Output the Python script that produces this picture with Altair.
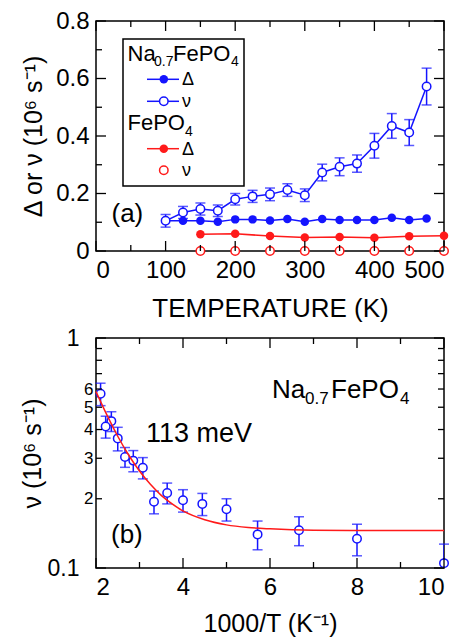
import altair as alt
import pandas as pd

FONT = "Liberation Sans"
BLUE = "#1414ff"
RED = "#ff1a1a"
W, H = 348, 230

# ---------------- panel (a) data ----------------
na_T = [100, 125, 150, 175, 200, 225, 250, 275, 300, 325, 350, 375, 400, 425, 450, 475]
na_delta = [0.105, 0.105, 0.105, 0.102, 0.110, 0.110, 0.106, 0.111, 0.102, 0.111,
            0.108, 0.108, 0.108, 0.116, 0.108, 0.113]
na_nu = [0.105, 0.134, 0.146, 0.140, 0.180, 0.190, 0.197, 0.212, 0.194, 0.273,
         0.293, 0.304, 0.366, 0.435, 0.412, 0.572]
na_nu_err = [0.022, 0.021, 0.021, 0.020, 0.020, 0.021, 0.022, 0.022, 0.022, 0.029,
             0.031, 0.030, 0.043, 0.043, 0.045, 0.064]

fe_T = [150, 200, 250, 300, 350, 400, 450, 500]
fe_delta = [0.058, 0.060, 0.052, 0.047, 0.049, 0.046, 0.051, 0.053]
fe_nu = [0, 0, 0, 0, 0, 0, 0, 0]

# ---------------- panel (b) fit curve ----------------
fit_x = [2.0, 2.25, 2.5, 2.75, 3.0, 3.25, 3.5, 3.75, 4.0, 4.5, 5.0, 5.5, 6.0, 7.0, 8.0, 10.0]
fit_nu = [0.585, 0.463, 0.374, 0.310, 0.264, 0.231, 0.207, 0.190, 0.177, 0.162,
          0.154, 0.150, 0.148, 0.146, 0.1457, 0.1455]

# ---------------- tick lists ----------------
a_x_major = [0, 100, 200, 300, 400, 500]
a_x_minor = [50, 150, 250, 350, 450]
a_y_major = [0, 0.2, 0.4, 0.6, 0.8]
a_y_minor = [0.1, 0.3, 0.5, 0.7]
b_x_major = [2, 4, 6, 8, 10]
b_x_minor = [3, 5, 7, 9]
b_y_major = [0.1, 1.0]
b_y_minor = [0.2, 0.3, 0.4, 0.5, 0.6, 0.7, 0.8, 0.9]
b_y_labels = [0.1, 0.2, 0.3, 0.4, 0.5, 0.6, 1.0]

na = pd.DataFrame({"T": na_T, "delta": na_delta, "nu": na_nu, "err": na_nu_err})
fe = pd.DataFrame({"T": fe_T, "delta": fe_delta, "nu": fe_nu})
fit = pd.DataFrame({"x": fit_x, "nu": fit_nu})
one = pd.DataFrame({"a": [0]})

LW = 1.5
PSIZE = 72


def tick_layers(xvals_major, xvals_minor, yvals_major, yvals_minor, X, Y):
    layers = []
    for vals, ln in ((xvals_major, 10), (xvals_minor, 6)):
        d = alt.Chart(pd.DataFrame({"v": vals})).mark_rule(color="black", strokeWidth=1.3)
        layers.append(d.encode(x=X("v"), y=alt.value(H), y2=alt.value(H - ln)))
        layers.append(d.encode(x=X("v"), y=alt.value(0), y2=alt.value(ln)))
    for vals, ln in ((yvals_major, 10), (yvals_minor, 6)):
        d = alt.Chart(pd.DataFrame({"v": vals})).mark_rule(color="black", strokeWidth=1.3)
        layers.append(d.encode(y=Y("v"), x=alt.value(0), x2=alt.value(ln)))
        layers.append(d.encode(y=Y("v"), x=alt.value(W), x2=alt.value(W - ln)))
    return layers


def txt(s, x, y, size, color="black", align="left", baseline="alphabetic"):
    return alt.Chart(one).mark_text(
        text=s, font=FONT, fontSize=size, color=color, align=align, baseline=baseline
    ).encode(x=alt.value(x), y=alt.value(y))


# ================= panel (a) =================
xs_a = alt.Scale(domain=[0, 500], nice=False, zero=False)
ys_a = alt.Scale(domain=[0, 0.8], nice=False, zero=False)

ax_a_x = alt.Axis(values=a_x_major, ticks=False, domain=False, grid=False,
                  labelFontSize=24, labelPadding=7, title="TEMPERATURE (K)",
                  titleFontSize=26, titlePadding=13)
ax_a_y = alt.Axis(values=a_y_major, ticks=False, domain=False, grid=False,
                  labelFontSize=24, labelPadding=7,
                  labelExpr="datum.value == 0 ? '0' : format(datum.value, '.1f')",
                  title="Δ or ν (10⁶ s⁻¹)", titleFontSize=25, titlePadding=9)


def XA(f):
    return alt.X(f"{f}:Q", scale=xs_a, axis=ax_a_x)


def YA(f):
    return alt.Y(f"{f}:Q", scale=ys_a, axis=ax_a_y)


na_base = alt.Chart(na)
fe_base = alt.Chart(fe)

a_layers = [
    na_base.mark_line(color=BLUE, strokeWidth=LW).encode(x=XA("T"), y=YA("delta")),
    na_base.mark_line(color=BLUE, strokeWidth=LW).encode(x=XA("T"), y=YA("nu")),
    na_base.transform_calculate(lo="datum.nu - datum.err", hi="datum.nu + datum.err")
    .mark_rule(color=BLUE, strokeWidth=LW).encode(x=XA("T"), y=YA("lo"), y2="hi:Q"),
    na_base.transform_calculate(lo="datum.nu - datum.err")
    .mark_tick(color=BLUE, orient="horizontal", size=10, thickness=LW)
    .encode(x=XA("T"), y=YA("lo")),
    na_base.transform_calculate(hi="datum.nu + datum.err")
    .mark_tick(color=BLUE, orient="horizontal", size=10, thickness=LW)
    .encode(x=XA("T"), y=YA("hi")),
    fe_base.mark_line(color=RED, strokeWidth=LW).encode(x=XA("T"), y=YA("delta")),
    na_base.mark_point(shape="circle", filled=True, color=BLUE, size=PSIZE, opacity=1)
    .encode(x=XA("T"), y=YA("delta")),
    na_base.mark_point(shape="circle", filled=True, fill="white", stroke=BLUE,
                       strokeWidth=LW, size=PSIZE, opacity=1)
    .encode(x=XA("T"), y=YA("nu")),
    fe_base.mark_point(shape="circle", filled=True, color=RED, size=PSIZE, opacity=1)
    .encode(x=XA("T"), y=YA("delta")),
    fe_base.mark_point(shape="circle", filled=True, fill="white", stroke=RED,
                       strokeWidth=LW, size=PSIZE, opacity=1)
    .encode(x=XA("T"), y=YA("nu")),
]
a_layers += tick_layers(a_x_major, a_x_minor, a_y_major, a_y_minor, XA, YA)

# legend box (manual)
a_layers.append(
    alt.Chart(one).mark_rect(fill="white", stroke="black", strokeWidth=1.5).encode(
        x=alt.value(27), x2=alt.value(148), y=alt.value(18), y2=alt.value(165)))
a_layers += [
    txt("Na", 31.5, 39.5, 22), txt("0.7", 58, 45, 14), txt("FePO", 77, 39.5, 22), txt("4", 135, 45, 14),
    txt("FePO", 31.5, 109, 22), txt("4", 89, 114.5, 14),
]
for (yy, col, filled, line) in ((58.3, BLUE, True, True), (80.3, BLUE, False, True),
                                (127.7, RED, True, True), (149.3, RED, False, False)):
    if line:
        a_layers.append(alt.Chart(one).mark_rule(color=col, strokeWidth=LW).encode(
            x=alt.value(51), x2=alt.value(83), y=alt.value(yy)))
    if filled:
        a_layers.append(alt.Chart(one).mark_point(shape="circle", filled=True, color=col,
                                                  size=PSIZE, opacity=1).encode(
            x=alt.value(67.8), y=alt.value(yy)))
    else:
        a_layers.append(alt.Chart(one).mark_point(shape="circle", filled=True, fill="white",
                                                  stroke=col, strokeWidth=LW, size=PSIZE,
                                                  opacity=1).encode(
            x=alt.value(67.8), y=alt.value(yy)))
    a_layers.append(txt("Δ" if filled else "ν", 86, yy + 1, 18, baseline="middle"))

a_layers.append(txt("(a)", 15.5, 201, 26))

panel_a = alt.layer(*a_layers).properties(width=W, height=H)

# ================= panel (b) =================
xs_b = alt.Scale(domain=[2, 10], nice=False, zero=False)
ys_b = alt.Scale(type="log", domain=[0.1, 1], nice=False)

major_test = "datum.value > 0.95 || datum.value < 0.15"
ax_b_x = alt.Axis(values=b_x_major, ticks=False, domain=False, grid=False,
                  labelFontSize=24, labelPadding=7, title="1000/T (K⁻¹)",
                  titleFontSize=25, titlePadding=12)
ax_b_y = alt.Axis(values=b_y_labels, ticks=False, domain=False, grid=False,
                  labelFontSize={"condition": {"test": major_test, "value": 23}, "value": 17},
                  labelPadding={"condition": {"test": major_test, "value": 17}, "value": 3},
                  labelExpr="datum.value > 0.95 ? '1' : (datum.value < 0.15 ? '0.1' : format(datum.value * 10, '.0f'))",
                  title="ν (10⁶ s⁻¹)", titleFontSize=25, titlePadding=2)


def XB(f):
    return alt.X(f"{f}:Q", scale=xs_b, axis=ax_b_x)


def YB(f):
    return alt.Y(f"{f}:Q", scale=ys_b, axis=ax_b_y)


b_base = alt.Chart(na).transform_calculate(inv="1000 / datum.T")

b_layers = [
    b_base.transform_calculate(lo="datum.nu - datum.err", hi="datum.nu + datum.err")
    .mark_rule(color=BLUE, strokeWidth=LW, clip=True)
    .encode(x=XB("inv"), y=YB("lo"), y2="hi:Q"),
    b_base.transform_calculate(lo="datum.nu - datum.err")
    .mark_tick(color=BLUE, orient="horizontal", size=10, thickness=LW, clip=True)
    .encode(x=XB("inv"), y=YB("lo")),
    b_base.transform_calculate(hi="datum.nu + datum.err")
    .mark_tick(color=BLUE, orient="horizontal", size=10, thickness=LW)
    .encode(x=XB("inv"), y=YB("hi")),
    b_base.mark_point(shape="circle", filled=True, fill="white", stroke=BLUE,
                      strokeWidth=LW, size=PSIZE, opacity=1)
    .encode(x=XB("inv"), y=YB("nu")),
    alt.Chart(fit).mark_line(color=RED, strokeWidth=LW, interpolate="monotone")
    .encode(x=XB("x"), y=YB("nu")),
]
b_layers += tick_layers(b_x_major, b_x_minor, b_y_major, b_y_minor, XB, YB)
b_layers += [
    txt("Na", 176, 60, 26), txt("0.7", 209, 66, 17), txt("FePO", 235, 60, 26), txt("4", 304, 66, 17),
    txt("113 meV", 50, 104, 27),
    txt("(b)", 15, 204.5, 26),
]

panel_b = alt.layer(*b_layers).properties(width=W, height=H)

chart = (
    alt.vconcat(panel_a, panel_b, spacing=87, bounds="flush")
    .properties(padding={"left": 11, "top": 0, "right": 0, "bottom": 0}, background="white")
    .configure_view(stroke="black", strokeWidth=1.5)
    .configure_axis(labelFont=FONT, titleFont=FONT, labelColor="black", titleColor="black",
                    titleFontWeight="normal")
)

chart.save("out.html", embed_options={"renderer": "svg", "actions": False})
